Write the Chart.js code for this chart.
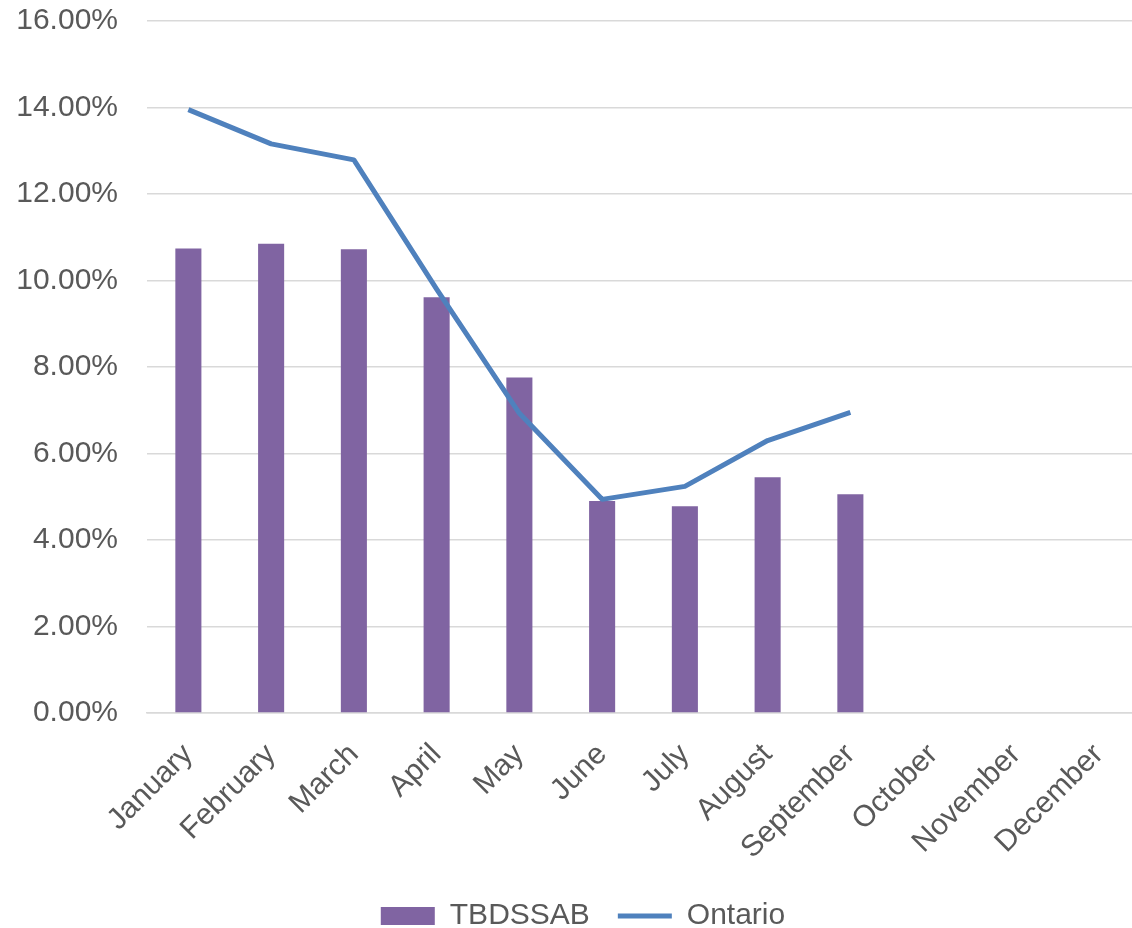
<!DOCTYPE html>
<html>
<head>
<meta charset="utf-8">
<script src="https://cdn.jsdelivr.net/npm/chart.js@4/dist/chart.umd.min.js"></script>
<style>
  html, body { margin: 0; padding: 0; background: #fff; overflow: hidden; }
  #wrap { width: 1140px; height: 928px; }
</style>
</head>
<body>
<div id="wrap"><canvas id="chart"></canvas></div>
<script>
// Dữ liệu biểu đồ (đơn vị: %)
const months = ['January', 'February', 'March', 'April', 'May', 'June',
                'July', 'August', 'September', 'October', 'November', 'December'];
const tbdssab = [10.74, 10.85, 10.72, 9.61, 7.76, 4.90, 4.78, 5.45, 5.06, null, null, null];
const ontario = [13.95, 13.16, 12.79, 9.80, 6.93, 4.94, 5.24, 6.30, 6.95, null, null, null];
const yTicks = [0, 2, 4, 6, 8, 10, 12, 14, 16];

const textColor = '#595959';
const gridColor = '#d9d9d9';
Chart.defaults.font.family = '"Liberation Sans", Arial, sans-serif';
Chart.defaults.color = textColor;

// Dịch chú thích sang phải một chút cho giống bản gốc
const legendShift = {
    id: 'legendShift',
    afterLayout(chart) {
        chart.legend.left += 13;
        chart.legend.right += 13;
    }
};

const ctx = document.getElementById('chart').getContext('2d');
new Chart(ctx, {
    type: 'bar',
    data: {
        labels: months,
        datasets: [
            {
                label: 'TBDSSAB',
                data: tbdssab,
                backgroundColor: '#8064a2',
                borderWidth: 0,
                categoryPercentage: 1,
                barPercentage: 0.315,
                pointStyle: 'rect',
                order: 1
            },
            {
                type: 'line',
                label: 'Ontario',
                data: ontario,
                borderColor: '#4f81bd',
                backgroundColor: '#4f81bd',
                borderWidth: 5,
                borderJoinStyle: 'round',
                tension: 0,
                pointRadius: 0,
                pointStyle: 'line',
                order: 0
            }
        ]
    },
    plugins: [legendShift],
    options: {
        responsive: true,
        maintainAspectRatio: false,
        animation: false,
        layout: { padding: { top: 21, right: 0, bottom: -13, left: 0 } },
        plugins: {
            tooltip: { enabled: false },
            legend: {
                position: 'bottom',
                labels: {
                    usePointStyle: true,
                    pointStyleWidth: 54,
                    boxHeight: 18,
                    padding: 28,
                    font: { size: 30 },
                    color: textColor,
                    sort: (a, b) => a.datasetIndex - b.datasetIndex
                }
            }
        },
        scales: {
            x: {
                grid: { display: false, drawTicks: false },
                border: { display: true, color: gridColor, width: 1.5 },
                ticks: {
                    minRotation: 45,
                    maxRotation: 45,
                    autoSkip: false,
                    padding: 24,
                    font: { size: 30 },
                    color: textColor
                },
                // cố định kích thước trục để khớp bố cục gốc
                afterFit: scale => {
                    scale.height = 160;
                    scale.paddingLeft = 0;
                    scale.paddingRight = 0;
                }
            },
            y: {
                min: 0,
                max: 16,
                afterBuildTicks: axis => { axis.ticks = yTicks.map(v => ({ value: v })); },
                grid: { color: gridColor, lineWidth: 1.5, drawTicks: false },
                border: { display: false },
                ticks: {
                    padding: 29,
                    font: { size: 30 },
                    color: textColor,
                    callback: v => v.toFixed(2) + '%'
                },
                afterFit: scale => {
                    scale.width = 147;
                    scale.paddingTop = 0;
                    scale.paddingBottom = 0;
                }
            }
        }
    }
});
</script>
</body>
</html>
